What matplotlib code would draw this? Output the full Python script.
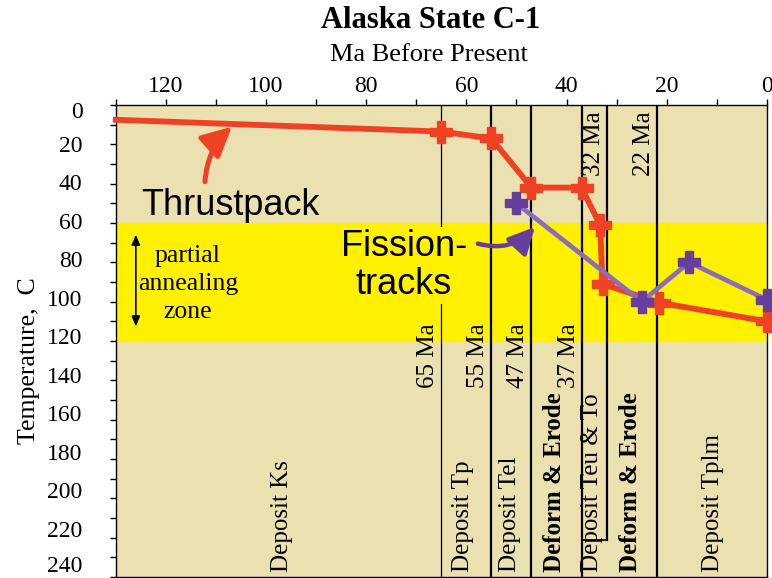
import matplotlib.pyplot as plt
import matplotlib.transforms as mtransforms
from matplotlib.patches import FancyArrowPatch

# thermal history, Alaska State C-1
thrust_ma = [130, 65, 55, 47, 37, 33.3, 32.8, 21.5, 0]
thrust_temp = [7.5, 13.5, 17, 42, 42, 61, 91, 100.5, 110]

fission_ma = [50, 25, 15.5, 0]
fission_temp = [50, 100, 80, 99]

# event boundaries (Ma) and their labels
event_ma = [65, 55, 47, 37, 32, 22]
event_labels = ['65 Ma', '55 Ma', '47 Ma', '37 Ma', '32 Ma', '22 Ma']

# depositional / deformation intervals
interval_ma = [96.8, 60.7, 51.3, 42.3, 34.9, 27.3, 10.8]
interval_labels = ['Deposit Ks', 'Deposit Tp', 'Deposit Tel', 'Deform & Erode',
                   'Deposit Teu & To', 'Deform & Erode', 'Deposit Tplm']
interval_bold = [False, False, False, True, False, True, False]

paz_top, paz_bottom = 60, 120
temp_ticks = list(range(0, 241, 20))

tan = '#EBE0AF'
yellow = '#FFF100'
orange = '#EF4123'
purple_mk = '#653E9E'
purple_ln = '#8B6DBC'
serif = 'Liberation Serif'
sans = 'Liberation Sans'

fig = plt.figure(figsize=(7.72, 5.78), dpi=100)
ax = fig.add_axes([0.150, 0.0017, 0.8433, 0.8166])
ax.set_facecolor(tan)
ax.set_xlim(130, 0)
ax.set_ylim(240, 0)

ax.axhspan(paz_top, paz_bottom, color=yellow, zorder=0)

# vertical event lines
for m in event_ma:
    lw = 0.9 if m == 65 else 1.6
    end = 221 if m == 32 else 240
    ax.plot([m, m], [0, end], color='black', lw=lw, zorder=1)
ax.plot([37, 32], [221, 221], color='black', lw=1.2, zorder=1)

for m, lab in zip(event_ma, event_labels):
    y = 36 if m in (32, 22) else 144
    ax.text(m + 0.4, y, lab, rotation=90, ha='right', va='bottom',
            family=serif, fontsize=18, zorder=2)

for m, lab, b in zip(interval_ma, interval_labels, interval_bold):
    ax.text(m, 237.5, lab, rotation=90, ha='center', va='bottom',
            family=serif, fontsize=18, fontweight='bold' if b else 'normal', zorder=2)

# curves
ax.plot(thrust_ma, thrust_temp, color=orange, lw=4.2, zorder=4, clip_on=False)
ax.plot(thrust_ma[1:], thrust_temp[1:], ls='none', marker='P', ms=16,
        color=orange, zorder=5, clip_on=False)
ax.plot(fission_ma, fission_temp, color=purple_ln, lw=3.4, zorder=6, clip_on=False)
ax.plot(fission_ma, fission_temp, ls='none', marker='P', ms=16,
        color=purple_mk, zorder=7, clip_on=False)

# annotations
ax.text(107, 51, 'Thrustpack', family=sans, fontsize=26, ha='center', va='center', zorder=3)
ax.add_patch(FancyArrowPatch((112.2, 39), (106.8, 11), connectionstyle='arc3,rad=-0.2',
                             arrowstyle='-|>,head_length=18,head_width=9',
                             color=orange, lw=3.6, zorder=3, mutation_scale=1,
                             shrinkA=0, shrinkB=0))

ax.text(72.5, 81.5, 'Fission-\ntracks', family=sans, fontsize=26, ha='center', va='center',
        linespacing=1.12, zorder=3,
        bbox=dict(boxstyle='square,pad=0.05', fc=yellow, ec='none'))
ax.add_patch(FancyArrowPatch((57.7, 70.5), (46.3, 62), connectionstyle='arc3,rad=0.3',
                             arrowstyle='-|>,head_length=16,head_width=8',
                             color=purple_mk, lw=3.2, zorder=3, mutation_scale=1,
                             shrinkA=0, shrinkB=0))

ax.text(115.6, 91, 'partial\nannealing\nzone', family=serif, fontsize=18.5,
        ha='center', va='center', linespacing=1.35, zorder=3)
ax.annotate('', xy=(126, 64.5), xytext=(126, 114),
            arrowprops=dict(arrowstyle='<|-|>,head_length=0.6,head_width=0.25',
                            color='black', lw=1.2))

# axes styling
ax.xaxis.tick_top()
ax.set_xticks(range(120, -1, -20))
ax.set_xticks(range(130, -1, -10), minor=True)
ax.set_yticks(temp_ticks)
ax.set_yticks(range(0, 241, 10), minor=True)
ax.tick_params(which='both', direction='out', length=4, width=1, colors='black',
               labelsize=17)
ax.tick_params(axis='x', which='both', pad=2)
ax.tick_params(axis='y', which='major', pad=20)
for lbl in ax.get_xticklabels() + ax.get_yticklabels():
    lbl.set_family(serif)
for s in ax.spines.values():
    s.set_linewidth(1)

# temperature labels creep upward from their ticks; the end ones are nudged inside
for lbl, v in zip(ax.get_yticklabels(), temp_ticks):
    if v == 0:
        shift = -5
    elif v == 240:
        shift = 13
    else:
        shift = 0.04 * v
    lbl.set_transform(lbl.get_transform() +
                      mtransforms.ScaledTranslation(0, shift / 100, fig.dpi_scale_trans))

fig.text(29 / 772, 1 - 361 / 578, 'Temperature,  C', family=serif, fontsize=18.5,
         rotation=90, ha='center', va='center')

fig.text(0.558, 0.965, 'Alaska State C-1', family=serif, fontsize=22, fontweight='bold',
         ha='center', va='center')
fig.text(0.556, 0.905, 'Ma Before Present', family=serif, fontsize=19,
         ha='center', va='center')

fig.savefig('out.png', dpi=100)
